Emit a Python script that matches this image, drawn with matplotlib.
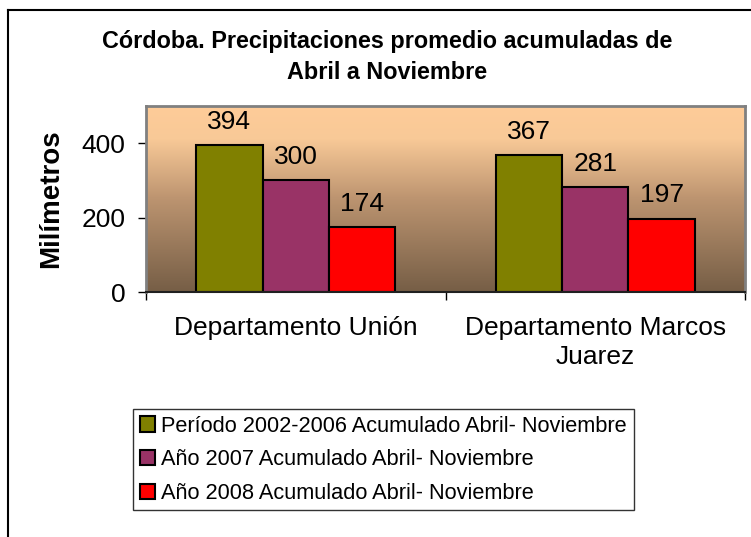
import numpy as np
import matplotlib.pyplot as plt
from matplotlib.colors import LinearSegmentedColormap
from matplotlib.lines import Line2D

plt.rcParams['font.family'] = ['Liberation Sans', 'DejaVu Sans']

# Data
categories = ['Departamento Unión', 'Departamento Marcos\nJuarez']
series_names = ['Período 2002-2006 Acumulado Abril- Noviembre',
                'Año 2007 Acumulado Abril- Noviembre',
                'Año 2008 Acumulado Abril- Noviembre']
periodo_2002_2006 = [394, 367]
anio_2007 = [300, 281]
anio_2008 = [174, 197]
colors = ['#808000', '#993366', '#FF0000']
y_ticks = [0, 200, 400]

fig = plt.figure(figsize=(7.51, 5.37), dpi=100)
ax = fig.add_axes([146 / 751, 1 - 292 / 537, 599 / 751, 186 / 537])

# gradient background of the plot area
grad_cmap = LinearSegmentedColormap.from_list(
    'bg', [(0.0, '#765E46'), (0.5, '#BC9470'), (0.82, '#F8C997'), (1.0, '#FFCC99')])
grad = np.linspace(0, 1, 256).reshape(-1, 1)
ax.imshow(grad, cmap=grad_cmap, aspect='auto', origin='lower',
          extent=[0, 1, 0, 1], transform=ax.transAxes, zorder=0)

x = np.arange(len(categories))
width = 0.222
all_series = [periodo_2002_2006, anio_2007, anio_2008]
for i, (vals, col, name) in enumerate(zip(all_series, colors, series_names)):
    pos = x + (i - 1) * width
    bars = ax.bar(pos, vals, width, color=col, edgecolor='black', linewidth=1.5,
                  label=name, zorder=2)
    for b, v in zip(bars, vals):
        ax.annotate(str(v), (b.get_x() + b.get_width() / 2, v),
                    xytext=(0, 17), textcoords='offset points',
                    ha='center', va='center', fontsize=19)

ax.set_xlim(-0.5, 1.5)
ax.set_ylim(0, 500)
ax.set_yticks(y_ticks)
ax.tick_params(axis='y', labelsize=19, length=6, width=1, pad=9)

ax.set_xticks([-0.5, 0.5, 1.5])
ax.set_xticklabels(['', '', ''])
ax.set_xticks(x, minor=True)
ax.set_xticklabels(categories, minor=True, fontsize=19, linespacing=1.3)
ax.tick_params(axis='x', which='major', length=6, width=1)
ax.tick_params(axis='x', which='minor', length=0, pad=17)

for s in ['top', 'right', 'left']:
    ax.spines[s].set_color('#808080')
    ax.spines[s].set_linewidth(2)
ax.spines['bottom'].set_color('#202020')
ax.spines['bottom'].set_linewidth(1.5)

ax.set_ylabel('Milímetros', fontsize=20, fontweight='bold', labelpad=12)

fig.text(387 / 751, 1 - 57 / 537,
         'Córdoba. Precipitaciones promedio acumuladas de\nAbril a Noviembre',
         ha='center', va='center', fontsize=16.8, fontweight='bold', linespacing=1.48)

# outer chart frame (left and top edges)
fig.add_artist(Line2D([8 / 751, 8 / 751], [0, 1 - 10 / 537], color='black', lw=1.5))
fig.add_artist(Line2D([8 / 751, 1], [1 - 10 / 537, 1 - 10 / 537], color='black', lw=1.5))

leg = fig.legend(loc='upper left', bbox_to_anchor=(133 / 751, 1 - 409 / 537),
                 fontsize=15.7, frameon=True, fancybox=False, edgecolor='black',
                 handlelength=0.7, handleheight=0.7, handletextpad=0.3,
                 labelspacing=0.58, borderpad=0.3, borderaxespad=0)
leg.get_frame().set_linewidth(1)

fig.savefig('out.png', dpi=100)
